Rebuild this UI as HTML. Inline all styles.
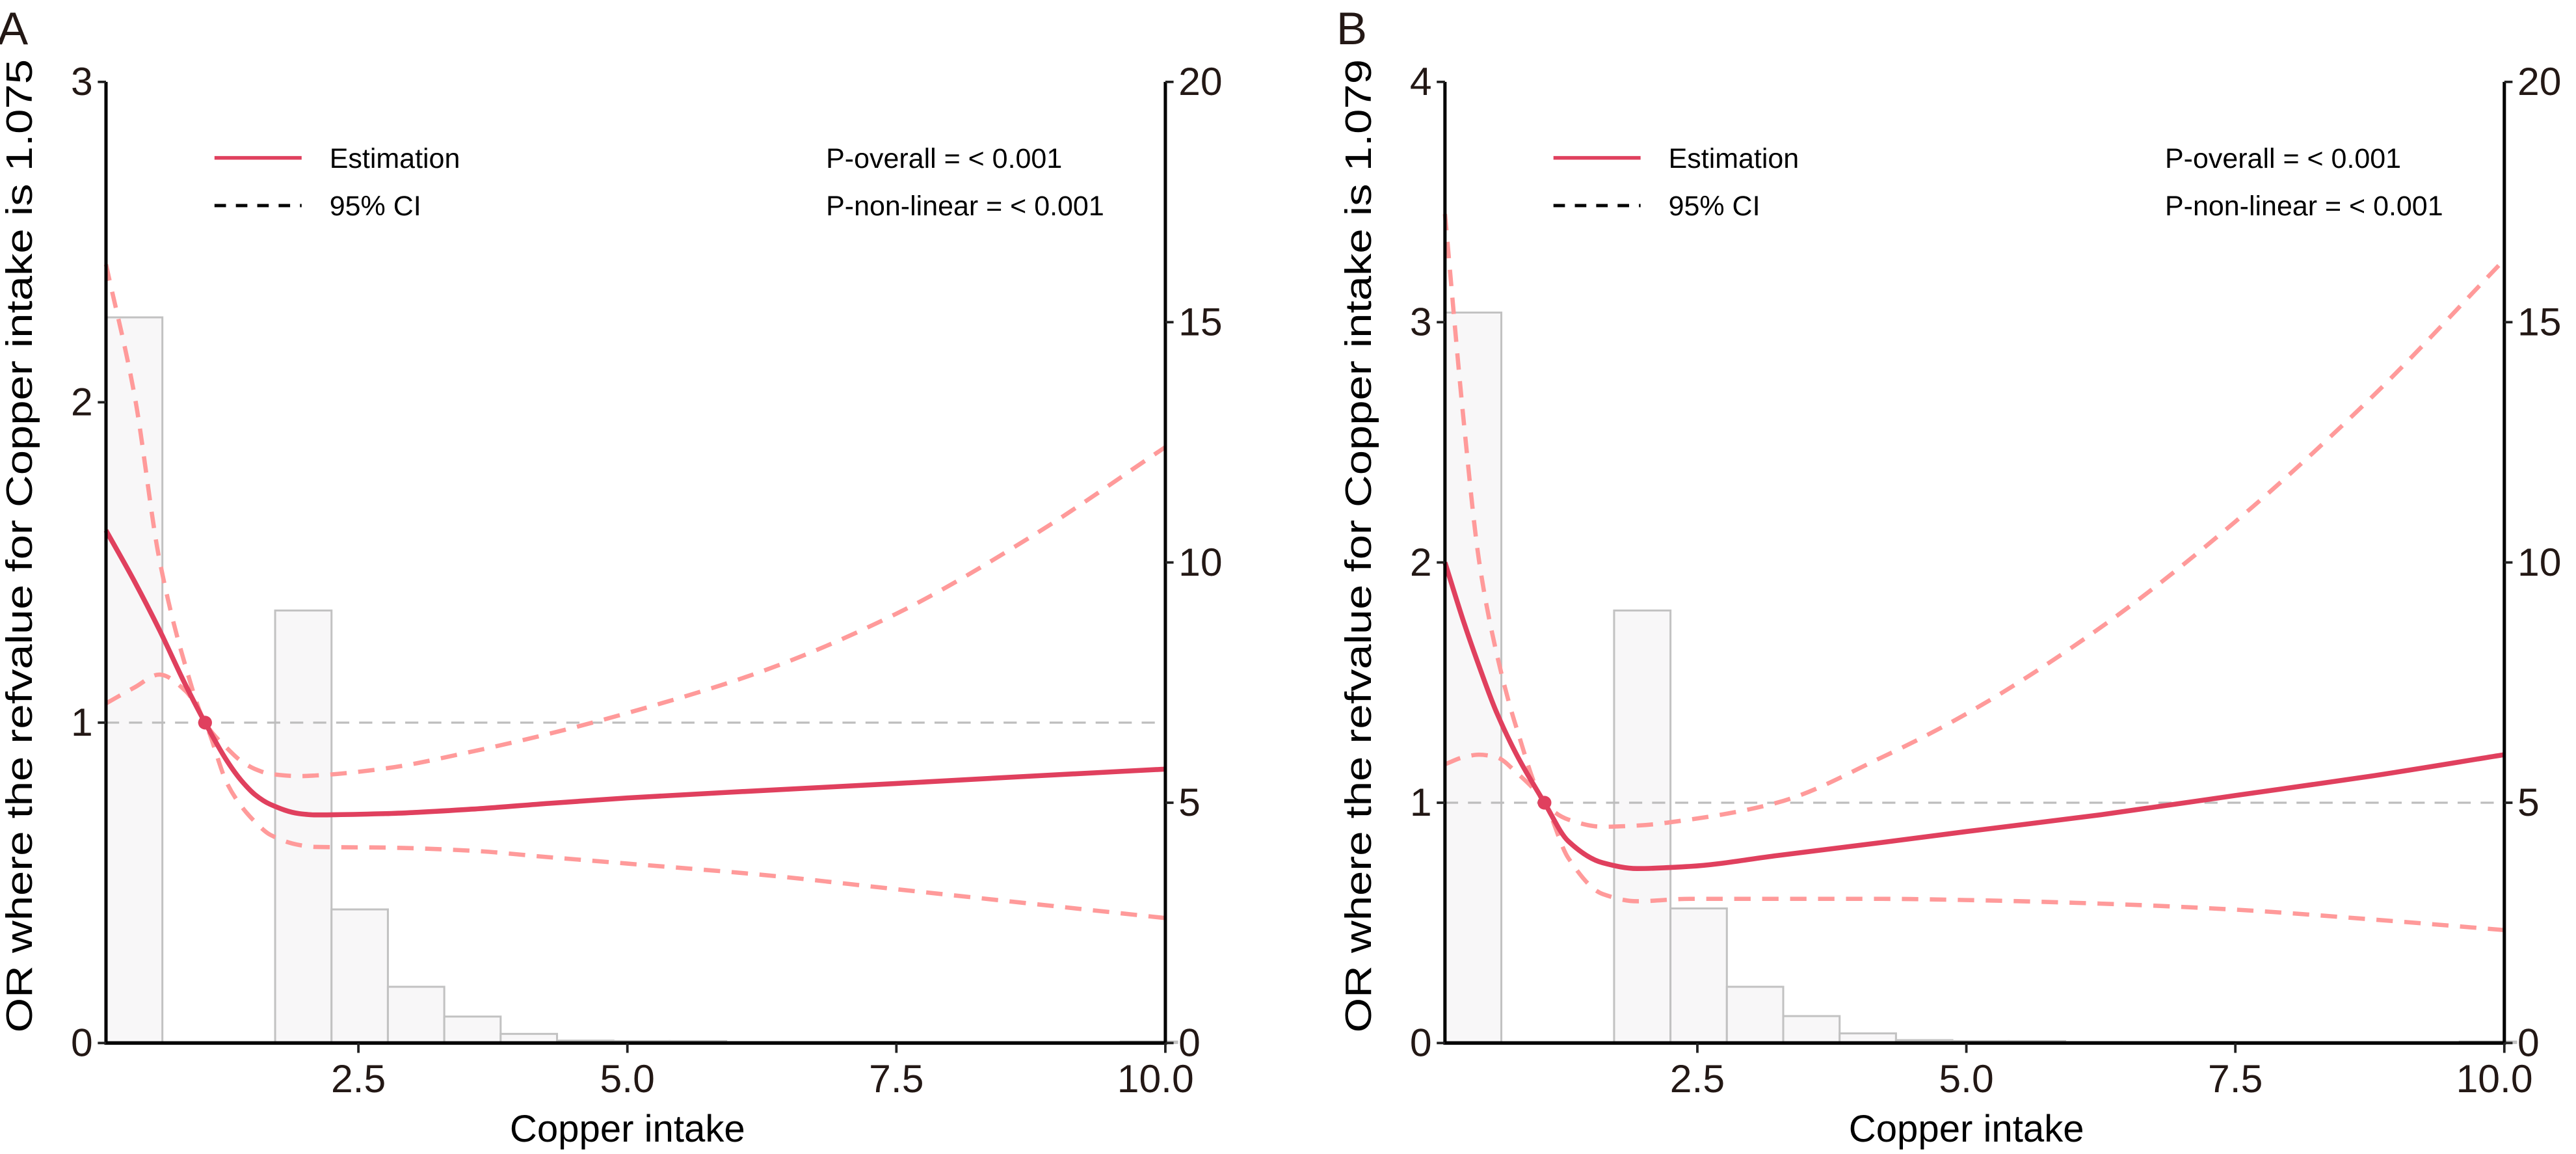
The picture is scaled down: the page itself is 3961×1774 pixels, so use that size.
<!DOCTYPE html>
<html><head><meta charset="utf-8"><style>
html,body{margin:0;padding:0;background:#fff;}
svg{display:block;font-family:"Liberation Sans",Arial,sans-serif;}
</style></head><body>
<svg id="fig" width="3961" height="1774" viewBox="0 0 1567 701.8"></svg>
<script>
// ---- data ----
const xTicks = [2.5, 5.0, 7.5, 10.0];
const xTickLabels = ["2.5", "5.0", "7.5", "10.0"];
const rightTicks = [0, 5, 10, 15, 20];
const leftTicksA = [0, 1, 2, 3];
const leftTicksB = [0, 1, 2, 3, 4];
const binStart = 0.154;
const binWidth = 0.524;
const histA = [15.1, 0, 0, 9.0, 2.78, 1.17, 0.55, 0.19, 0.05, 0.04, 0.04, 0.02, 0.02, 0.02, 0.01, 0.01, 0.01, 0.0, 0.03];
const histB = [15.2, 0, 0, 9.0, 2.8, 1.17, 0.56, 0.2, 0.06, 0.04, 0.04, 0.02, 0.02, 0.02, 0.01, 0.01, 0.01, 0.0, 0.03];
const curveX_A = [0.154, 0.42, 0.65, 0.89, 1.075, 1.28, 1.41, 1.54, 1.68, 1.95, 2.1, 2.75, 3.56, 4.27, 5.0, 6.25, 7.5, 8.75, 10.0];
const estA   = [1.60, 1.44, 1.29, 1.12, 1.0, 0.88, 0.82, 0.775, 0.745, 0.716, 0.712, 0.716, 0.73, 0.748, 0.765, 0.788, 0.81, 0.833, 0.855];
const upperA = [2.43, 2.02, 1.51, 1.18, 1.0, 0.92, 0.88, 0.855, 0.84, 0.833, 0.835, 0.857, 0.91, 0.965, 1.03, 1.16, 1.34, 1.58, 1.86];
const lowerA = [1.06, 1.11, 1.15, 1.10, 1.0, 0.81, 0.74, 0.69, 0.65, 0.618, 0.612, 0.61, 0.6, 0.58, 0.56, 0.525, 0.48, 0.435, 0.39];
const curveX_B = [0.154, 0.33, 0.47, 0.63, 0.82, 1.079, 1.30, 1.62, 1.94, 2.43, 3.24, 4.22, 5.0, 6.25, 7.5, 8.75, 10.0];
const estB   = [2.00, 1.75, 1.57, 1.38, 1.2, 1.0, 0.84, 0.75, 0.726, 0.735, 0.78, 0.835, 0.88, 0.95, 1.03, 1.11, 1.20];
const upperB = [3.45, 2.58, 2.01, 1.63, 1.31, 1.0, 0.93, 0.90, 0.905, 0.93, 1.0, 1.19, 1.37, 1.73, 2.17, 2.68, 3.26];
const lowerB = [1.16, 1.19, 1.20, 1.19, 1.125, 1.0, 0.77, 0.62, 0.59, 0.60, 0.60, 0.60, 0.595, 0.58, 0.555, 0.515, 0.47];
const refA = 1.075, refB = 1.079;

const NS = "http://www.w3.org/2000/svg";
const svg = document.getElementById("fig");
function el(tag, attrs, parent, text){
  const e = document.createElementNS(NS, tag);
  for (const k in attrs) e.setAttribute(k, attrs[k]);
  if (text !== undefined) e.textContent = text;
  (parent || svg).appendChild(e);
  return e;
}
function smoothPath(pts){
  const n = pts.length, dx = [], s = [], m = [];
  for (let i = 0; i < n-1; i++){ dx[i] = pts[i+1][0]-pts[i][0]; s[i] = (pts[i+1][1]-pts[i][1])/dx[i]; }
  m[0] = s[0]; m[n-1] = s[n-2];
  for (let i = 1; i < n-1; i++){
    if (s[i-1]*s[i] <= 0) m[i] = 0;
    else { const w1 = 2*dx[i]+dx[i-1], w2 = dx[i]+2*dx[i-1]; m[i] = (w1+w2)/(w1/s[i-1] + w2/s[i]); }
  }
  let d = "M" + pts[0][0].toFixed(2) + "," + pts[0][1].toFixed(2);
  for (let i = 0; i < n-1; i++){
    const h = dx[i];
    d += "C" + (pts[i][0]+h/3).toFixed(2) + "," + (pts[i][1]+m[i]*h/3).toFixed(2) + " " +
         (pts[i+1][0]-h/3).toFixed(2) + "," + (pts[i+1][1]-m[i+1]*h/3).toFixed(2) + " " +
         pts[i+1][0].toFixed(2) + "," + pts[i+1][1].toFixed(2);
  }
  return d;
}

function panel(o){
  const g = el("g", {});
  
  
  const left = o.x0 + binStart*o.sx, right = o.x0 + 10*o.sx, top = 49.8, bottom = 634.3;
  const X = v => o.x0 + v*o.sx;
  const YL = v => bottom - v*(bottom-top)/o.ymax;
  const YR = v => bottom - v*(bottom-top)/20;

  o.hist.forEach((h, i) => {
    const x1 = X(binStart + i*binWidth), x2 = X(binStart + (i+1)*binWidth);
    if (h <= 0) return;
    const r = el("rect", {x: x1, y: YR(h), width: x2-x1, height: bottom - YR(h), fill: "#f8f7f8", stroke: "#c2c2c2", "stroke-width": 1.2}, g);
    
    
  });
  const ref = el("line", {x1: left, x2: right, y1: YL(1), y2: YL(1), stroke: "#bdbdbd", "stroke-width": 1.3, "stroke-dasharray": "8,6"}, g);
  
  
  [["upper", o.up], ["lower", o.lo]].forEach(([nm, arr]) => {
    const p = el("path", {d: smoothPath(o.cx.map((v, i) => [X(v), YL(arr[i])])), fill: "none", stroke: "#ff9a9a", "stroke-width": 2.6, "stroke-dasharray": "10,7"}, g);
    
    
  });
  const est = el("path", {d: smoothPath(o.cx.map((v, i) => [X(v), YL(o.est[i])])), fill: "none", stroke: "#e0405e", "stroke-width": 3}, g);
  
  
  const dot = el("circle", {cx: X(o.ref), cy: YL(1), r: 4.2, fill: "#e0405e"}, g);
  
  

  const ax = el("line", {x1: left, x2: left, y1: top, y2: bottom, stroke: "#000", "stroke-width": 2}, g);
  
  
  const axr = el("line", {x1: right, x2: right, y1: top, y2: bottom, stroke: "#000", "stroke-width": 2}, g);
  
  
  const axb = el("line", {x1: left-1, x2: right+1, y1: bottom, y2: bottom, stroke: "#000", "stroke-width": 2.2}, g);
  
  

  o.lticks.forEach(t => {
    el("line", {x1: left-5, x2: left, y1: YL(t), y2: YL(t), stroke: "#222", "stroke-width": 1.5}, g);
    const tx = el("text", {x: left-8, y: YL(t)+8, "font-size": 24, "text-anchor": "end", fill: "#231815"}, g, String(t));
    
    
  });
  rightTicks.forEach(t => {
    el("line", {x1: right, x2: right+5, y1: YR(t), y2: YR(t), stroke: "#222", "stroke-width": 1.5}, g);
    const tx = el("text", {x: right+8, y: YR(t)+8, "font-size": 24, "text-anchor": "start", fill: "#231815"}, g, String(t));
    
    
  });
  xTicks.forEach((t, i) => {
    el("line", {x1: X(t), x2: X(t), y1: bottom, y2: bottom+6, stroke: "#222", "stroke-width": 1.5}, g);
    const tx = el("text", {x: X(t) - (i === xTicks.length-1 ? 6 : 0), y: bottom+30, "font-size": 24, "text-anchor": "middle", fill: "#231815"}, g, xTickLabels[i]);
    
    
  });
  const xt = el("text", {x: (left+right)/2 - 5, y: bottom+60, "font-size": 23, "text-anchor": "middle", fill: "#000"}, g, "Copper intake");
  
  
  const yt = el("text", {x: 0, y: 0, "font-size": 22.5, "text-anchor": "middle", fill: "#000", transform: "translate(" + (o.x0 - 35) + ",332) rotate(-90)", textLength: 592, lengthAdjust: "spacingAndGlyphs"}, g, "OR where the refvalue for Copper intake  is " + o.refLabel);
  
  
  const lt = el("text", {x: o.x0 - 56, y: 27, "font-size": 28, fill: "#231815"}, g, o.letter);
  
  

  const lg = el("g", {}, g);
  
  
  const lx = left + 66;
  el("line", {x1: lx, x2: lx+53, y1: 96, y2: 96, stroke: "#e0405e", "stroke-width": 2.2}, lg);
  const e1 = el("text", {x: lx+70, y: 102, "font-size": 17, fill: "#000"}, lg, "Estimation");
  
  
  el("line", {x1: lx, x2: lx+53, y1: 125, y2: 125, stroke: "#000", "stroke-width": 2, "stroke-dasharray": "7,6"}, lg);
  const e2 = el("text", {x: lx+70, y: 131, "font-size": 17, fill: "#000"}, lg, "95% CI");
  
  
  const p1 = el("text", {x: left+438, y: 102, "font-size": 17, fill: "#000"}, g, "P-overall = < 0.001");
  
  
  const p2 = el("text", {x: left+438, y: 131, "font-size": 17, fill: "#000"}, g, "P-non-linear = < 0.001");
  
  
}

panel({name: "panel-a", letter: "A", x0: 54.4, sx: 65.45, ymax: 3, lticks: leftTicksA, hist: histA, cx: curveX_A, est: estA, up: upperA, lo: lowerA, ref: refA, refLabel: "1.075"});
panel({name: "panel-b", letter: "B", x0: 868.9, sx: 65.45, ymax: 4, lticks: leftTicksB, hist: histB, cx: curveX_B, est: estB, up: upperB, lo: lowerB, ref: refB, refLabel: "1.079"});
</script>
</body></html>
